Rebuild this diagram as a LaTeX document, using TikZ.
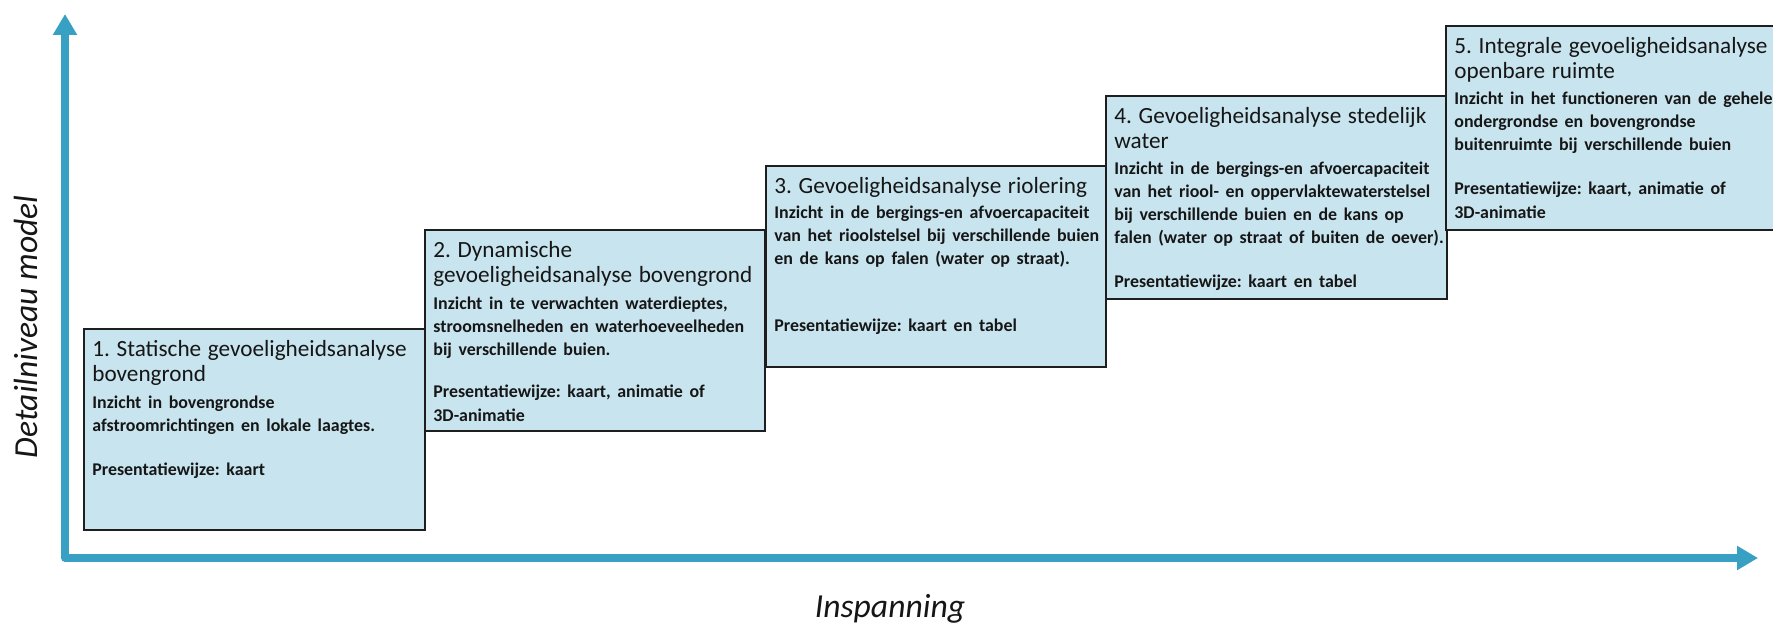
\documentclass[tikz,border=0pt]{standalone}
\usepackage{fontspec}
\usetikzlibrary{arrows.meta}
\newfontfamily\carl{Carlito}
\definecolor{axisblue}{RGB}{56,160,194}
\definecolor{boxfill}{RGB}{200,228,238}
\definecolor{boxline}{RGB}{30,30,30}
\definecolor{txtcol}{RGB}{22,22,22}
\newcommand{\titlef}{\carl\fontsize{11.6}{12.5}\selectfont}
\newcommand{\bodyf}{\carl\bfseries\fontsize{8.95}{11.5}\selectfont}
\tikzset{
  stepbox/.style={draw=boxline, line width=1pt, fill=boxfill, inner sep=0pt, anchor=south west},
  boxtext/.style={anchor=north west, inner sep=0pt, text width=180pt, align=left, text=txtcol},
  axis/.style={draw=axisblue, line width=3.8pt, line join=round,
    {Triangle[length=10.5pt,width=11.5pt]}-{Triangle[length=10.5pt,width=11.5pt]}},
  axlab/.style={font=\carl\itshape\fontsize{16.8}{20}\selectfont, text=txtcol, inner sep=0pt}
}
\begin{document}
\frenchspacing
\begin{tikzpicture}[x=0.5pt,y=0.5pt]
\path[use as bounding box] (0,0) rectangle (1773,623);
\fill[white] (0,0) rectangle (1773,623);
\clip (0,0) rectangle (1773,623);
% axes
\coordinate (ytip) at (65,609);
\coordinate (org) at (65,65);
\coordinate (xtip) at (1758,65);
\draw[axis] (ytip) -- (org) -- (xtip);
\node[axlab, rotate=90, anchor=base] (ylab) at (37,296) {Detailniveau model};
\node[axlab, anchor=base] (xlab) at (890,6) {Inspanning};
% boxes
\node[stepbox, minimum width=170.5pt, minimum height=100.5pt] (b1) at (83,92) {};
\node[stepbox, minimum width=170pt, minimum height=100.5pt] (b2) at (424,191) {};
\node[stepbox, minimum width=170pt, minimum height=100.5pt] (b3) at (765,255) {};
\node[stepbox, minimum width=170.5pt, minimum height=101.5pt] (b4) at (1105,323) {};
\node[stepbox, minimum width=180pt, minimum height=102pt] (b5) at (1445,392) {};
% texts
\node[boxtext] (t1) at ([xshift=4.5pt,yshift=-6pt]b1.north west) {\titlef 1. Statische gevoeligheidsanalyse\\bovengrond\par\vspace{1.8pt}
\bodyf Inzicht in bovengrondse\\afstroomrichtingen en lokale laagtes.\\[0.9\baselineskip]Presentatiewijze: kaart};
\node[boxtext] (t2) at ([xshift=4.5pt,yshift=-6pt]b2.north west) {\titlef 2. Dynamische\\gevoeligheidsanalyse bovengrond\par\vspace{1.8pt}
\bodyf Inzicht in te verwachten waterdieptes,\\stroomsnelheden en waterhoeveelheden\\bij verschillende buien.\\[0.85\baselineskip]Presentatiewijze: kaart, animatie of\\3D-animatie};
\node[boxtext] (t3) at ([xshift=4.5pt,yshift=-6pt]b3.north west) {\titlef 3. Gevoeligheidsanalyse riolering\par\vspace{0.8pt}
\bodyf Inzicht in de bergings-en afvoercapaciteit\\van het rioolstelsel bij verschillende buien\\en de kans op falen (water op straat).\\[1.9\baselineskip]Presentatiewijze: kaart en tabel};
\node[boxtext] (t4) at ([xshift=4.5pt,yshift=-6pt]b4.north west) {\titlef 4. Gevoeligheidsanalyse stedelijk\\water\par\vspace{1.5pt}
\bodyf Inzicht in de bergings-en afvoercapaciteit\\van het riool- en oppervlaktewaterstelsel\\bij verschillende buien en de kans op\\falen (water op straat of buiten de oever).\\[0.85\baselineskip]Presentatiewijze: kaart en tabel};
\node[boxtext] (t5) at ([xshift=4.5pt,yshift=-6pt]b5.north west) {\titlef 5. Integrale gevoeligheidsanalyse\\openbare ruimte\par\vspace{1.5pt}
\bodyf Inzicht in het functioneren van de gehele\\ondergrondse en bovengrondse\\buitenruimte bij verschillende buien\\[0.9\baselineskip]Presentatiewijze: kaart, animatie of\\3D-animatie};
\end{tikzpicture}
\end{document}
